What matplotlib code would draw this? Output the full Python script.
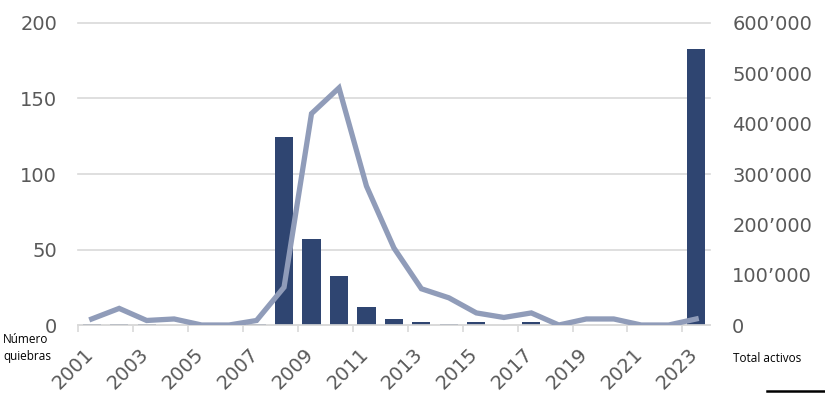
import matplotlib
matplotlib.use('Agg')
import matplotlib.pyplot as plt
from matplotlib.ticker import MultipleLocator, FixedLocator, FuncFormatter
from matplotlib.lines import Line2D
from matplotlib.transforms import ScaledTranslation
import numpy as np

# años, número de quiebras (eje izq.) y total activos en millones (eje der.)
YEARS = list(range(2001, 2024))
QUIEBRAS = [4, 11, 3, 4, 0, 0, 3, 25, 140, 157, 92, 51, 24, 18, 8, 5, 8, 0, 4, 4, 0, 0, 4]
ACTIVOS = [2358, 2872, 1097, 170, 0, 0, 2615, 373589, 170867, 96514, 36012, 11617,
           6044, 2914, 6706, 277, 5082, 0, 209, 458, 0, 0, 548000]

NAVY = '#2F4571'
LINE = '#909CB9'
GREY = '#595959'
GRID = '#D9D9D9'

fig = plt.figure(figsize=(8.25, 3.93), dpi=100)
ax = fig.add_axes([0.0945, 0.173, 0.766, 0.7685])
ax2 = ax.twinx()
ax.set_zorder(ax2.get_zorder() + 1)
ax.patch.set_visible(False)

x = np.arange(len(YEARS))
ax2.bar(x, ACTIVOS, width=0.66, color=NAVY, zorder=2)
ax.plot(x, QUIEBRAS, color=LINE, lw=3.8, solid_joinstyle='miter', zorder=3)

ax.set_xlim(-0.5, len(YEARS) - 0.5)
ax.set_ylim(0, 200)
ax2.set_ylim(0, 600000)

# eje izquierdo
ax.yaxis.set_major_locator(MultipleLocator(50))
ax.tick_params(axis='y', length=0, pad=15, labelsize=14, labelcolor=GREY)

# eje derecho: etiquetas cada 100'000, rejilla alineada con el eje izquierdo
ax2.yaxis.remove_overlapping_locs = False
ax2.yaxis.set_major_locator(MultipleLocator(100000))
ax2.yaxis.set_minor_locator(MultipleLocator(150000))
ax2.yaxis.set_major_formatter(FuncFormatter(lambda v, p: f"{v:,.0f}".replace(",", "\u2019")))
ax2.tick_params(axis='y', which='both', length=0, pad=16, labelsize=14, labelcolor=GREY)
ax2.grid(axis='y', which='minor', color=GRID, lw=1.2, zorder=0, clip_on=False)
ax2.set_axisbelow(True)

# eje x: marcas entre categorías cada 2 años, etiquetas cada 2 años
ax.xaxis.set_major_locator(FixedLocator(np.arange(-0.5, len(YEARS) - 1, 2)))
ax.xaxis.set_minor_locator(FixedLocator(x[::2]))
ax.set_xticklabels([], minor=False)
ax.set_xticklabels([str(y) for y in YEARS[::2]], minor=True, rotation=45,
                   ha='right', va='top', rotation_mode='anchor')
ax.tick_params(axis='x', which='major', length=5, width=1.2, color=GRID, direction='out')
ax.tick_params(axis='x', which='minor', length=0, labelsize=14, labelcolor=GREY)
shift = ScaledTranslation(-8 / 100, -15 / 100, fig.dpi_scale_trans)
for lab in ax.get_xticklabels(minor=True):
    lab.set_transform(lab.get_transform() + shift)

for a in (ax, ax2):
    for s in a.spines.values():
        s.set_visible(False)
ax.spines['bottom'].set_visible(True)
ax.spines['bottom'].set_color(GRID)
ax.spines['bottom'].set_linewidth(1.2)

fig.text(3 / 825, 1 - 333 / 393, 'Número\nquiebras', fontsize=8.5, va='top', ha='left',
         family='Open Sans', color='black', linespacing=1.4)
fig.text(733 / 825, 1 - 359 / 393, 'Total activos', fontsize=8.5, va='center', ha='left',
         family='Open Sans', color='black')

fig.add_artist(Line2D([767 / 825, 1.0], [1 - 391 / 393, 1 - 391 / 393],
                      color='black', lw=1.8, transform=fig.transFigure))

fig.savefig('out.png', dpi=100)
